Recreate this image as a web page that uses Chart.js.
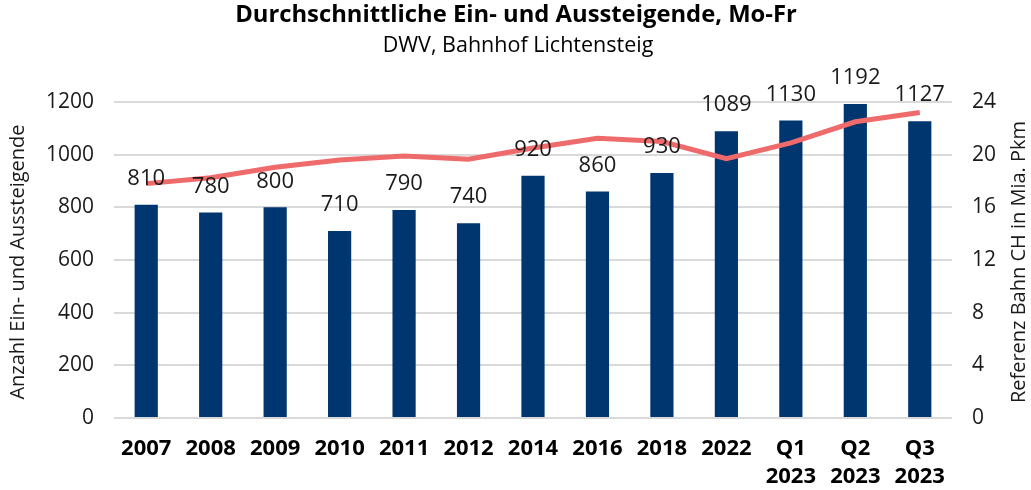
<!DOCTYPE html>
<html>
<head>
<meta charset="utf-8">
<script src="https://cdn.jsdelivr.net/npm/chart.js@4"></script>
<style>
  html, body { margin: 0; padding: 0; background: #fff; }
  #wrap { width: 1031px; height: 490px; position: relative; }
</style>
</head>
<body>
<div id="wrap"><canvas id="c" width="1031" height="490"></canvas></div>
<script>
const categories = ['2007','2008','2009','2010','2011','2012','2014','2016','2018','2022',['Q1','2023'],['Q2','2023'],['Q3','2023']];
const passengers = [810, 780, 800, 710, 790, 740, 920, 860, 930, 1089, 1130, 1192, 1127];
const referenzPkm = [17.8, 18.25, 19.05, 19.6, 19.9, 19.65, 20.5, 21.25, 21.0, 19.7, 20.9, 22.5, 23.2];
const leftTicks = [0, 200, 400, 600, 800, 1000, 1200];
const rightTicks = [0, 4, 8, 12, 16, 20, 24];
const titleText = 'Durchschnittliche Ein- und Aussteigende, Mo-Fr';
const subtitleText = 'DWV, Bahnhof Lichtensteig';
const leftTitle = 'Anzahl Ein- und Aussteigende';
const rightTitle = 'Referenz Bahn CH in Mia. Pkm';

const FONT = "'Open Sans', 'Noto Sans', sans-serif";

const headerPlugin = {
  id: 'header',
  afterDraw(chart) {
    const ctx = chart.ctx;
    const ca = chart.chartArea;
    const midY = (ca.top + ca.bottom) / 2 + 2;
    ctx.save();
    ctx.fillStyle = '#000';
    ctx.textAlign = 'center';
    ctx.textBaseline = 'middle';
    ctx.font = 'bold 23.8px ' + FONT;
    ctx.fillText(titleText, 516, 15);
    ctx.font = '21.5px ' + FONT;
    ctx.fillText(subtitleText, 518, 46);
    ctx.fillStyle = '#1a1a1a';
    ctx.font = '20px ' + FONT;
    ctx.save();
    ctx.translate(18, midY);
    ctx.rotate(-Math.PI / 2);
    ctx.fillText(leftTitle, 0, 0);
    ctx.restore();
    ctx.save();
    ctx.translate(1019, midY);
    ctx.rotate(-Math.PI / 2);
    ctx.fillText(rightTitle, 0, 0);
    ctx.restore();
    ctx.restore();
  }
};

// category labels under the x axis, placed at the x scale's own tick positions
const xLabels = {
  id: 'xLabels',
  afterDraw(chart) {
    const ctx = chart.ctx;
    const xs = chart.scales.x;
    const base = chart.chartArea.bottom;
    ctx.save();
    ctx.fillStyle = '#000';
    ctx.font = 'bold 22px ' + FONT;
    ctx.textAlign = 'center';
    ctx.textBaseline = 'middle';
    categories.forEach((lab, i) => {
      const x = xs.getPixelForTick(i);
      const lines = Array.isArray(lab) ? lab : [lab];
      lines.forEach((t, j) => ctx.fillText(t, x, base + 31 + j * 28));
    });
    ctx.restore();
  }
};

const valueLabels = {
  id: 'valueLabels',
  afterDatasetsDraw(chart) {
    const ctx = chart.ctx;
    const meta = chart.getDatasetMeta(0);
    ctx.save();
    ctx.fillStyle = '#1a1a1a';
    ctx.font = '22px ' + FONT;
    ctx.textAlign = 'center';
    ctx.textBaseline = 'middle';
    meta.data.forEach((bar, i) => {
      ctx.fillText(String(passengers[i]), bar.x, bar.y - 26);
    });
    ctx.restore();
  }
};

new Chart(document.getElementById('c'), {
  data: {
    labels: categories,
    datasets: [
      {
        type: 'bar',
        label: 'Ein- und Aussteigende',
        data: passengers,
        backgroundColor: '#00366F',
        barPercentage: 0.36,
        categoryPercentage: 1.0,
        yAxisID: 'y',
        order: 2
      },
      {
        type: 'line',
        label: 'Referenz Bahn CH',
        data: referenzPkm,
        borderColor: '#EF6A6A',
        borderWidth: 5,
        pointRadius: 0,
        tension: 0,
        fill: false,
        yAxisID: 'y1',
        order: 1
      }
    ]
  },
  options: {
    responsive: false,
    animation: false,
    layout: { padding: { top: 102, left: 0, right: 0, bottom: 72 } },
    plugins: {
      legend: { display: false },
      tooltip: { enabled: false },
      title: { display: false }
    },
    scales: {
      x: {
        grid: { display: false, drawTicks: false },
        border: { display: false },
        ticks: { display: false, autoSkip: false }
      },
      y: {
        position: 'left',
        min: 0, max: 1200,
        afterBuildTicks(scale) { scale.ticks = leftTicks.map(v => ({ value: v })); },
        grid: { color: '#D9D9D9', lineWidth: 2, drawTicks: false },
        border: { display: false },
        ticks: {
          color: '#1a1a1a',
          font: { family: FONT, size: 21 },
          padding: 20,
          callback: (v) => String(v)
        },
        afterFit(scale) { scale.width = 114; }
      },
      y1: {
        position: 'right',
        min: 0, max: 24,
        afterBuildTicks(scale) { scale.ticks = rightTicks.map(v => ({ value: v })); },
        grid: { display: false, drawTicks: false },
        border: { display: false },
        ticks: {
          color: '#1a1a1a',
          font: { family: FONT, size: 21 },
          padding: 20,
          callback: (v) => String(v)
        },
        afterFit(scale) { scale.width = 79; }
      }
    }
  },
  plugins: [valueLabels, xLabels, headerPlugin]
});
</script>
</body>
</html>
